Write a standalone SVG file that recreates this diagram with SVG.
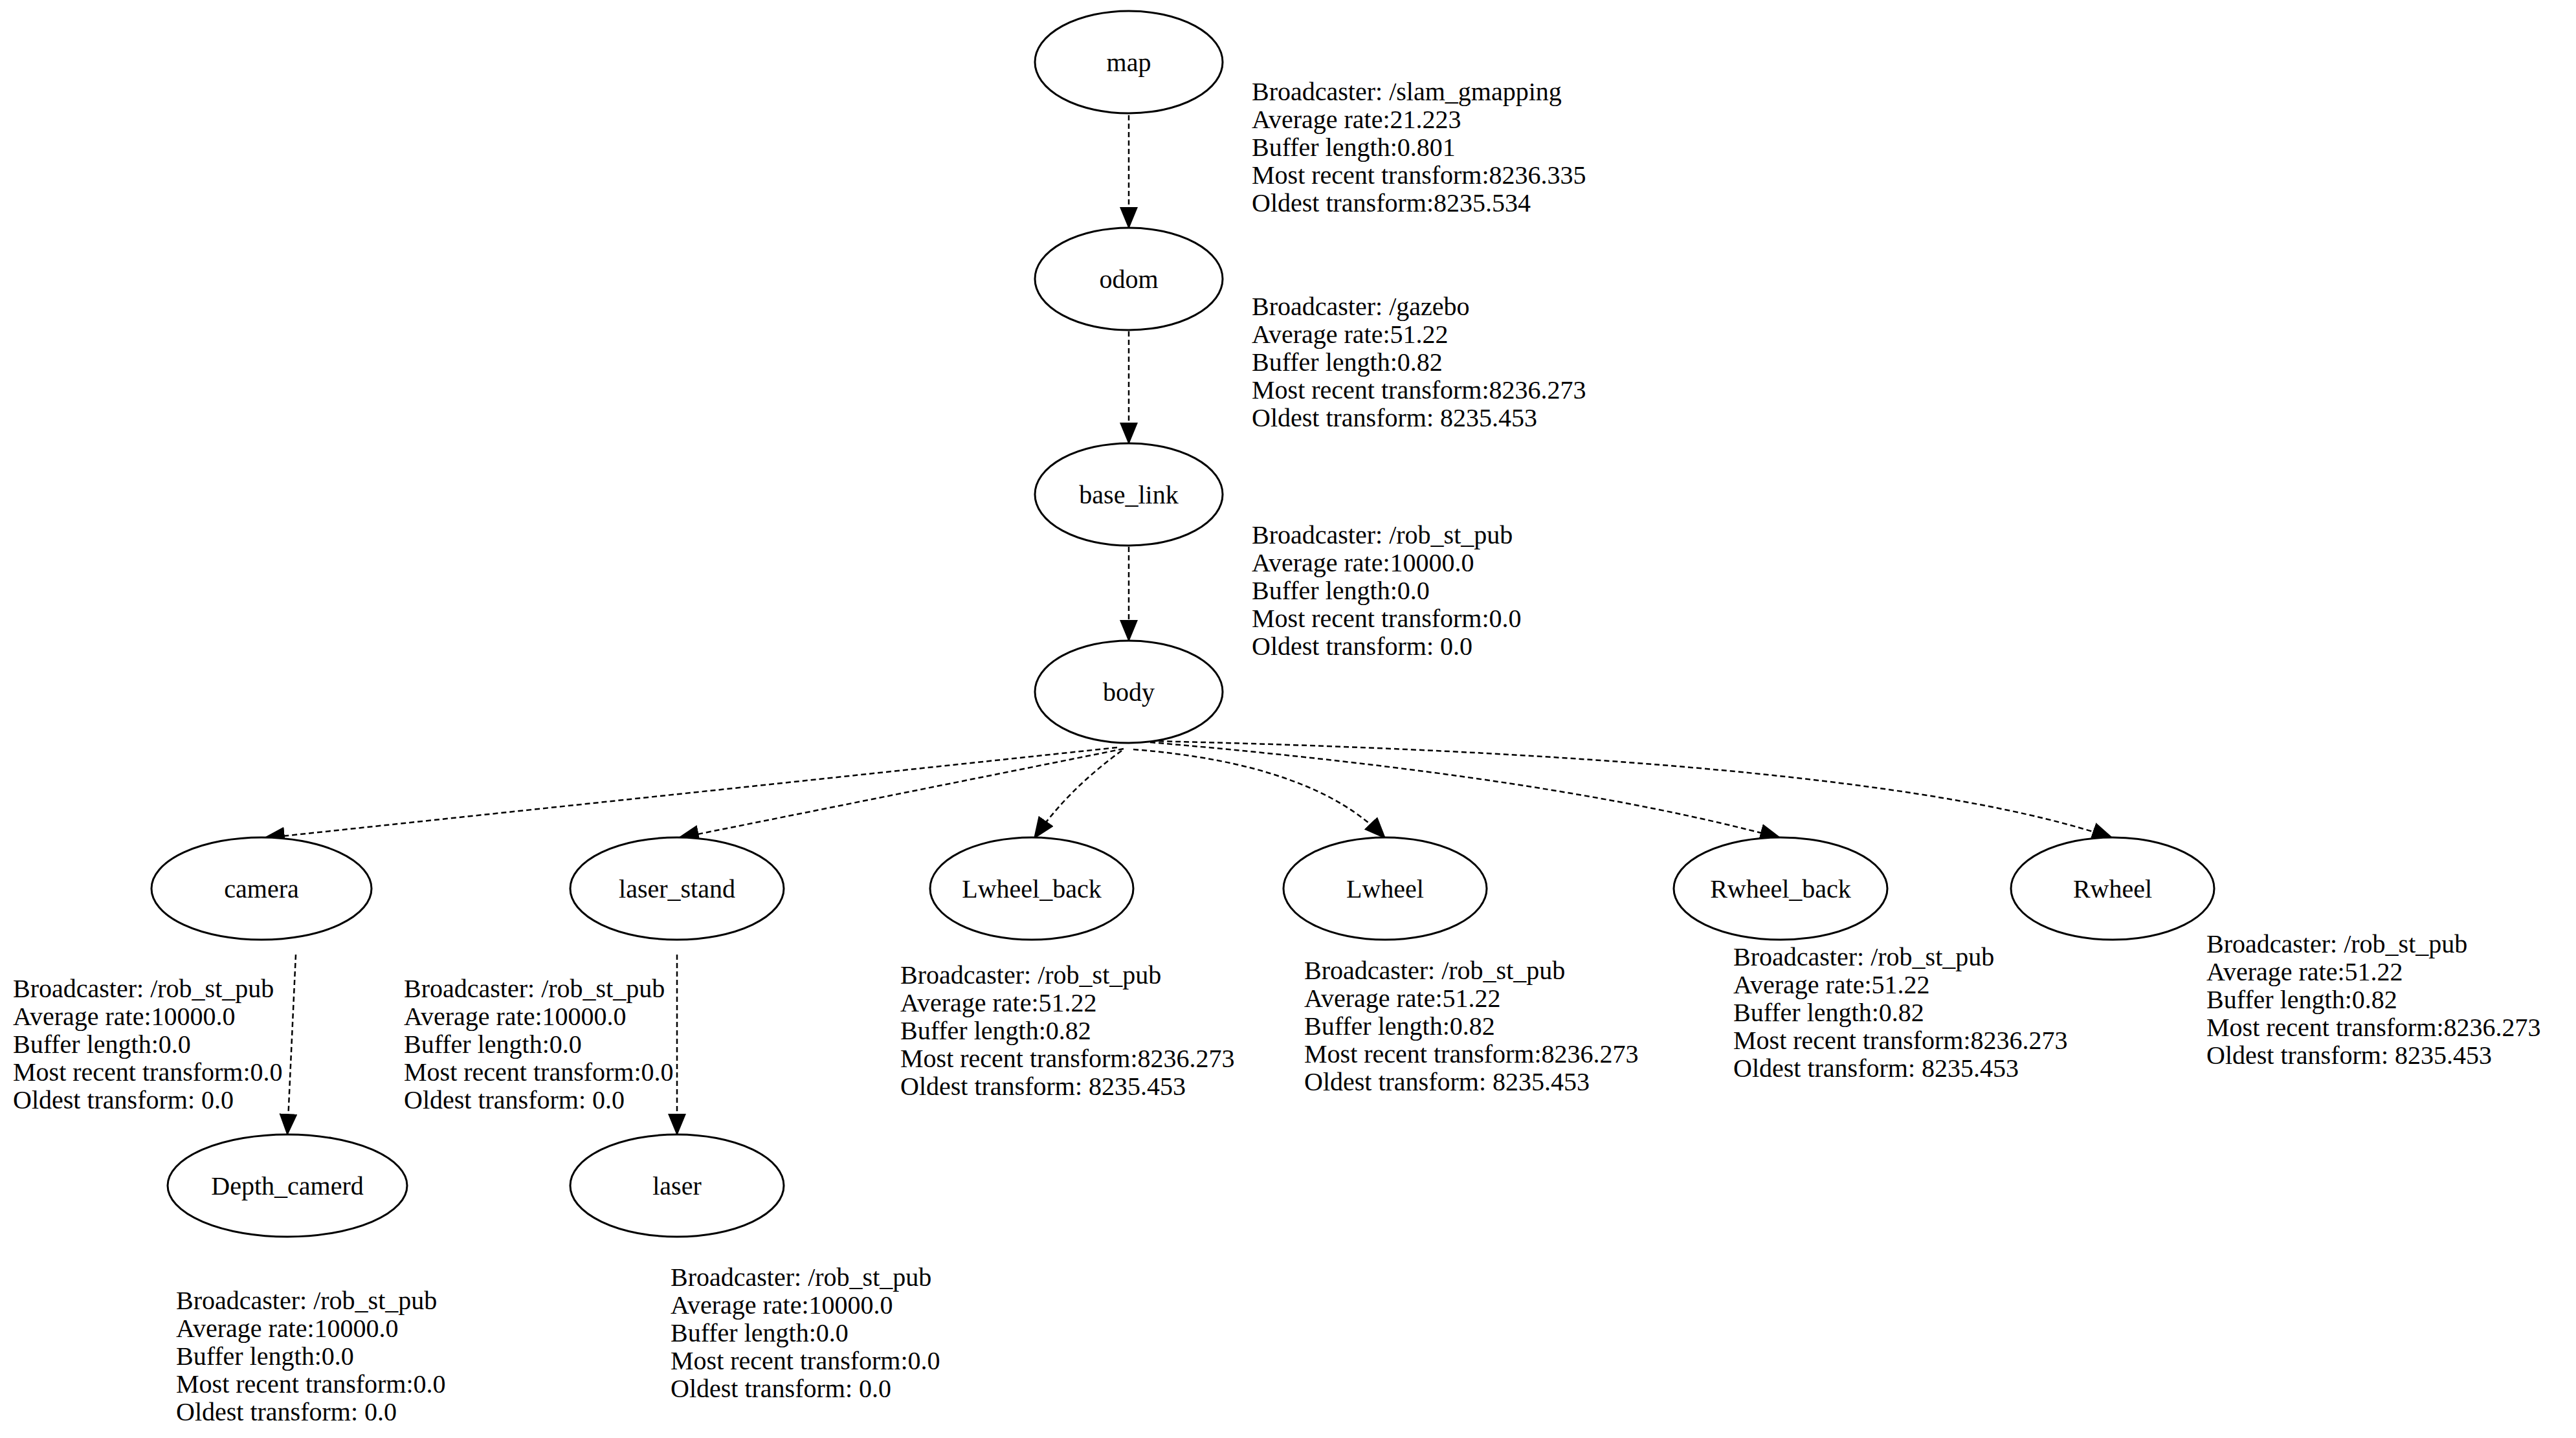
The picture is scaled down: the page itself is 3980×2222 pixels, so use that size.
<svg xmlns="http://www.w3.org/2000/svg" width="3980" height="2222" viewBox="0 0 3980 2222">
<defs>
<marker id="ah" markerUnits="userSpaceOnUse" markerWidth="34" markerHeight="28" refX="32" refY="14" orient="auto">
<path d="M0,0 L34,14 L0,28 Z" fill="#000"/>
</marker>
<style>
.n ellipse{fill:#fff;stroke:#000;stroke-width:3}
.n text{font-family:"Liberation Serif",serif;font-size:40px;text-anchor:middle;fill:#000}
.e path{fill:none;stroke:#000;stroke-width:2.5;stroke-dasharray:8,5;marker-end:url(#ah)}
.l{font-family:"Liberation Serif",serif;font-size:40px;fill:#000}
</style>
</defs>
<rect width="3980" height="2222" fill="#fff"/>
<g id="connectors" class="e">
<path d="M1744,178 L1744,352"/>
<path d="M1744,512 L1744,685"/>
<path d="M1744,845 L1744,990"/>
<path d="M1726,1155 L408,1295"/>
<path d="M1736,1157 L1048,1295"/>
<path d="M1733,1160 Q1650,1220 1598,1295"/>
<path d="M1751,1158 Q2030,1180 2140,1295"/>
<path d="M1777,1147 Q2400,1200 2751,1295"/>
<path d="M1777,1145 Q2900,1170 3264,1295"/>
<path d="M457,1475 L444,1753"/>
<path d="M1046,1475 L1046,1753"/>
</g>
<g id="map" class="n"><ellipse cx="1744" cy="96" rx="145" ry="79"/><text x="1744" y="110">map</text></g>
<g id="odom" class="n"><ellipse cx="1744" cy="431" rx="145" ry="79"/><text x="1744" y="445">odom</text></g>
<g id="base_link" class="n"><ellipse cx="1744" cy="764" rx="145" ry="79"/><text x="1744" y="778">base_link</text></g>
<g id="body" class="n"><ellipse cx="1744" cy="1069" rx="145" ry="79"/><text x="1744" y="1083">body</text></g>
<g id="camera" class="n"><ellipse cx="404" cy="1373" rx="170" ry="79"/><text x="404" y="1387">camera</text></g>
<g id="laser_stand" class="n"><ellipse cx="1046" cy="1373" rx="165" ry="79"/><text x="1046" y="1387">laser_stand</text></g>
<g id="Lwheel_back" class="n"><ellipse cx="1594" cy="1373" rx="157" ry="79"/><text x="1594" y="1387">Lwheel_back</text></g>
<g id="Lwheel" class="n"><ellipse cx="2140" cy="1373" rx="157" ry="79"/><text x="2140" y="1387">Lwheel</text></g>
<g id="Rwheel_back" class="n"><ellipse cx="2751" cy="1373" rx="165" ry="79"/><text x="2751" y="1387">Rwheel_back</text></g>
<g id="Rwheel" class="n"><ellipse cx="3264" cy="1373" rx="157" ry="79"/><text x="3264" y="1387">Rwheel</text></g>
<g id="Depth_camerd" class="n"><ellipse cx="444" cy="1832" rx="185" ry="79"/><text x="444" y="1846">Depth_camerd</text></g>
<g id="laser" class="n"><ellipse cx="1046" cy="1832" rx="165" ry="79"/><text x="1046" y="1846">laser</text></g>
<g id="labels" class="l">
<text x="1934" y="155"><tspan x="1934">Broadcaster: /slam_gmapping</tspan><tspan x="1934" dy="43">Average rate:21.223</tspan><tspan x="1934" dy="43">Buffer length:0.801</tspan><tspan x="1934" dy="43">Most recent transform:8236.335</tspan><tspan x="1934" dy="43">Oldest transform:8235.534</tspan></text>
<text x="1934" y="487"><tspan x="1934">Broadcaster: /gazebo</tspan><tspan x="1934" dy="43">Average rate:51.22</tspan><tspan x="1934" dy="43">Buffer length:0.82</tspan><tspan x="1934" dy="43">Most recent transform:8236.273</tspan><tspan x="1934" dy="43">Oldest transform: 8235.453</tspan></text>
<text x="1934" y="840"><tspan x="1934">Broadcaster: /rob_st_pub</tspan><tspan x="1934" dy="43">Average rate:10000.0</tspan><tspan x="1934" dy="43">Buffer length:0.0</tspan><tspan x="1934" dy="43">Most recent transform:0.0</tspan><tspan x="1934" dy="43">Oldest transform: 0.0</tspan></text>
<text x="20" y="1541"><tspan x="20">Broadcaster: /rob_st_pub</tspan><tspan x="20" dy="43">Average rate:10000.0</tspan><tspan x="20" dy="43">Buffer length:0.0</tspan><tspan x="20" dy="43">Most recent transform:0.0</tspan><tspan x="20" dy="43">Oldest transform: 0.0</tspan></text>
<text x="624" y="1541"><tspan x="624">Broadcaster: /rob_st_pub</tspan><tspan x="624" dy="43">Average rate:10000.0</tspan><tspan x="624" dy="43">Buffer length:0.0</tspan><tspan x="624" dy="43">Most recent transform:0.0</tspan><tspan x="624" dy="43">Oldest transform: 0.0</tspan></text>
<text x="1391" y="1520"><tspan x="1391">Broadcaster: /rob_st_pub</tspan><tspan x="1391" dy="43">Average rate:51.22</tspan><tspan x="1391" dy="43">Buffer length:0.82</tspan><tspan x="1391" dy="43">Most recent transform:8236.273</tspan><tspan x="1391" dy="43">Oldest transform: 8235.453</tspan></text>
<text x="2015" y="1513"><tspan x="2015">Broadcaster: /rob_st_pub</tspan><tspan x="2015" dy="43">Average rate:51.22</tspan><tspan x="2015" dy="43">Buffer length:0.82</tspan><tspan x="2015" dy="43">Most recent transform:8236.273</tspan><tspan x="2015" dy="43">Oldest transform: 8235.453</tspan></text>
<text x="2678" y="1492"><tspan x="2678">Broadcaster: /rob_st_pub</tspan><tspan x="2678" dy="43">Average rate:51.22</tspan><tspan x="2678" dy="43">Buffer length:0.82</tspan><tspan x="2678" dy="43">Most recent transform:8236.273</tspan><tspan x="2678" dy="43">Oldest transform: 8235.453</tspan></text>
<text x="3409" y="1472"><tspan x="3409">Broadcaster: /rob_st_pub</tspan><tspan x="3409" dy="43">Average rate:51.22</tspan><tspan x="3409" dy="43">Buffer length:0.82</tspan><tspan x="3409" dy="43">Most recent transform:8236.273</tspan><tspan x="3409" dy="43">Oldest transform: 8235.453</tspan></text>
<text x="272" y="2023"><tspan x="272">Broadcaster: /rob_st_pub</tspan><tspan x="272" dy="43">Average rate:10000.0</tspan><tspan x="272" dy="43">Buffer length:0.0</tspan><tspan x="272" dy="43">Most recent transform:0.0</tspan><tspan x="272" dy="43">Oldest transform: 0.0</tspan></text>
<text x="1036" y="1987"><tspan x="1036">Broadcaster: /rob_st_pub</tspan><tspan x="1036" dy="43">Average rate:10000.0</tspan><tspan x="1036" dy="43">Buffer length:0.0</tspan><tspan x="1036" dy="43">Most recent transform:0.0</tspan><tspan x="1036" dy="43">Oldest transform: 0.0</tspan></text>
</g>
</svg>
